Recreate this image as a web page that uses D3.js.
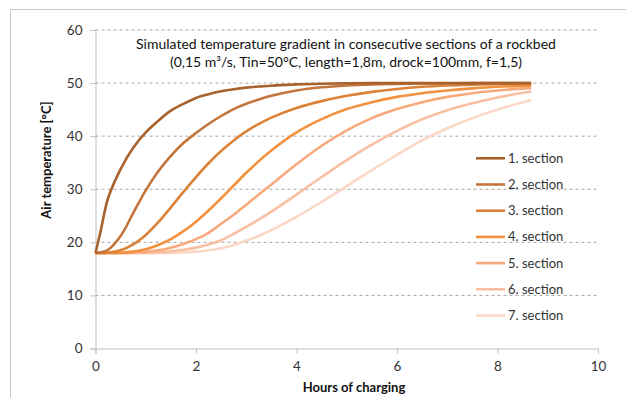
<!DOCTYPE html>
<html>
<head>
<meta charset="utf-8">
<script src="https://cdn.jsdelivr.net/npm/d3@7"></script>
<style>
  body { margin: 0; background: #fff; }
  svg text { font-family: Lato, "Open Sans", sans-serif; fill: #333; }
</style>
</head>
<body>
<div id="chart"></div>
<script>
var hours = [0, 0.1, 0.25, 0.5, 0.75, 1, 1.25, 1.5, 1.75, 2, 2.25, 2.5, 2.75, 3, 3.25, 3.5, 4, 4.5, 5, 5.5, 6, 6.5, 7, 7.5, 8, 8.67];

var sectionNames = ["1. section", "2. section", "3. section", "4. section", "5. section", "6. section", "7. section"];
var sectionColors = ["#a8622e", "#c4753c", "#dc8238", "#f3913f", "#f8a97c", "#f8c0a1", "#fbd7c6"];

var sec1 = [18, 22, 28.3, 33.8, 37.8, 40.7, 42.9, 44.8, 46.1, 47.2, 47.9, 48.45, 48.85, 49.15, 49.35, 49.5, 49.75, 49.88, 49.95, 50, 50, 50, 50, 50, 50, 50];
var sec2 = [18, 18.1, 18.6, 21.2, 25.5, 29.8, 33.4, 36.3, 38.7, 40.6, 42.3, 43.8, 45.1, 46.1, 46.9, 47.6, 48.6, 49.2, 49.55, 49.75, 49.85, 49.92, 49.96, 50, 50, 50];
var sec3 = [18, 18, 18.05, 18.5, 19.6, 21.4, 23.8, 26.6, 29.5, 32.3, 34.9, 37.2, 39.2, 40.9, 42.3, 43.5, 45.3, 46.6, 47.6, 48.35, 48.9, 49.3, 49.55, 49.7, 49.8, 49.85];
var sec4 = [18, 18, 18, 18.05, 18.25, 18.7, 19.5, 20.6, 22.1, 23.9, 26, 28.3, 30.7, 33.1, 35.3, 37.3, 40.7, 43.2, 45.1, 46.4, 47.4, 48.1, 48.6, 49, 49.3, 49.5];
var sec5 = [18, 18, 18, 18, 18.05, 18.2, 18.5, 19, 19.7, 20.6, 21.8, 23.5, 25.2, 27.1, 29, 30.9, 34.7, 38.2, 41.1, 43.4, 45.1, 46.4, 47.4, 48.1, 48.6, 49.1];
var sec6 = [18, 18, 18, 18, 18, 18.02, 18.1, 18.3, 18.6, 19, 19.6, 20.4, 21.6, 22.9, 24.3, 25.8, 29, 32.3, 35.5, 38.4, 41, 43.2, 44.9, 46.2, 47.3, 48.4];
var sec7 = [18, 18, 18, 18, 18, 18, 18, 18.02, 18.1, 18.25, 18.5, 18.9, 19.5, 20.3, 21.2, 22.3, 24.8, 27.6, 30.6, 33.6, 36.5, 39.2, 41.5, 43.4, 45, 46.8];

var xTicks = [0, 2, 4, 6, 8, 10];
var yTicks = [0, 10, 20, 30, 40, 50, 60];

var titleLines = ["Simulated temperature gradient in consecutive sections of a rockbed",
                  "(0,15 m\u00B3/s, Tin=50\u00B0C, length=1,8m, drock=100mm, f=1,5)"];

var width = 626, height = 398;
var svg = d3.select("#chart").append("svg")
	.attr("width", width)
	.attr("height", height);

// outer chart border (right and bottom edges fall outside the picture)
svg.append("rect")
	.attr("x", 10.5).attr("y", 9.5)
	.attr("width", 640).attr("height", 420)
	.attr("fill", "none")
	.attr("stroke", "#c8c8c8");

var x = d3.scaleLinear().domain([0, 10]).range([95.5, 598]);
var y = d3.scaleLinear().domain([0, 60]).range([348.5, 30]);

// gridlines
svg.append("g").selectAll("line")
	.data(yTicks.filter(function(d) { return d > 0; }))
	.enter().append("line")
	.attr("x1", x(0)).attr("x2", x(10))
	.attr("y1", function(d) { return y(d); })
	.attr("y2", function(d) { return y(d); })
	.attr("stroke", "#a6a6a6")
	.attr("stroke-dasharray", "3,3");

// axes
var yAxis = svg.append("g")
	.attr("transform", "translate(" + x(0) + ",0)")
	.call(d3.axisLeft(y).tickValues(yTicks).tickSize(5).tickPadding(8));
var xAxis = svg.append("g")
	.attr("transform", "translate(0," + y(0) + ")")
	.call(d3.axisBottom(x).tickValues(xTicks).tickSize(5).tickPadding(8));

[xAxis, yAxis].forEach(function(ax) {
	ax.selectAll("path, line").attr("stroke", "#bfbfbf");
	ax.selectAll("text")
		.style("font-family", "Lato, 'Open Sans', sans-serif")
		.style("font-size", "13.5px")
		.attr("fill", "#333");
});

// axis titles
svg.append("text")
	.attr("transform", "translate(51,160) rotate(-90)")
	.attr("text-anchor", "middle")
	.style("font-size", "13px")
	.style("font-weight", "bold")
	.style("fill", "#111")
	.text("Air temperature [\u00B0C]");

svg.append("text")
	.attr("x", 354).attr("y", 392)
	.attr("text-anchor", "middle")
	.style("font-size", "13px")
	.style("font-weight", "bold")
	.style("fill", "#111")
	.text("Hours of charging");

// title
svg.append("g").selectAll("text")
	.data(titleLines)
	.enter().append("text")
	.attr("x", 346)
	.attr("y", function(d, i) { return 49 + i * 18; })
	.attr("text-anchor", "middle")
	.style("font-size", "14px")
	.style("fill", "#111")
	.text(function(d) { return d; });

// curves, lightest drawn first
var series = [sec1, sec2, sec3, sec4, sec5, sec6, sec7];
var line = d3.line()
	.x(function(d, i) { return x(hours[i]); })
	.y(function(d) { return y(d); })
	.curve(d3.curveCatmullRom.alpha(0.5));

svg.append("g").selectAll("path")
	.data(series.slice().reverse())
	.enter().append("path")
	.attr("d", line)
	.attr("fill", "none")
	.attr("stroke", function(d, i) { return sectionColors[series.length - 1 - i]; })
	.attr("stroke-width", 2.6);

// legend
var legend = svg.append("g").selectAll("g")
	.data(sectionNames)
	.enter().append("g")
	.attr("transform", function(d, i) { return "translate(476," + (158.3 + i * 26.2) + ")"; });

legend.append("line")
	.attr("x1", 0).attr("x2", 29)
	.attr("stroke", function(d, i) { return sectionColors[i]; })
	.attr("stroke-width", 2.6);

legend.append("text")
	.attr("x", 32).attr("y", 4.5)
	.style("font-size", "13px")
	.text(function(d) { return d; });
</script>
</body>
</html>
